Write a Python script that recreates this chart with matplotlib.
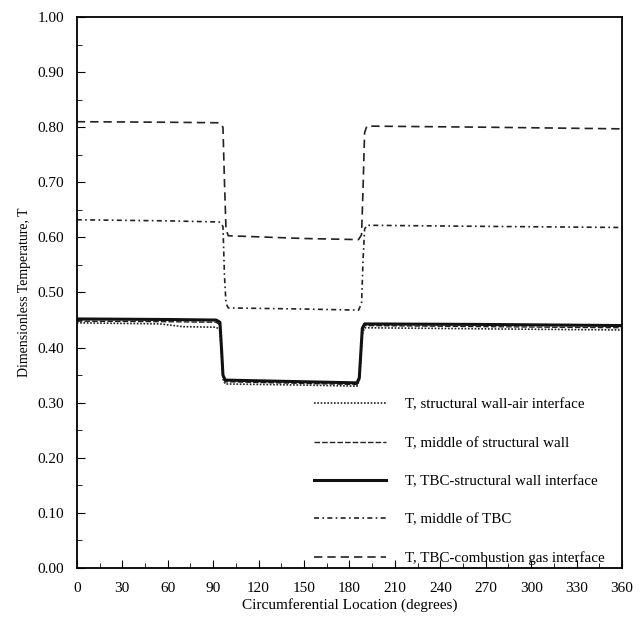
import matplotlib
matplotlib.use('Agg')
import matplotlib.pyplot as plt
from matplotlib.ticker import MultipleLocator, FormatStrFormatter

plt.rcParams['font.family'] = ['Liberation Serif', 'DejaVu Serif']

# ---- data ----
x_gas = [0, 60, 94, 96.5, 97.5, 98.5, 100, 150, 186, 188, 189, 190, 191.5, 270, 360]
t_gas = [0.810, 0.809, 0.808, 0.800, 0.700, 0.615, 0.603, 0.598, 0.596, 0.605, 0.690, 0.790, 0.802, 0.800, 0.797]

x_tbc = [0, 60, 94, 96.5, 97.5, 98.5, 100, 150, 186, 188, 189, 190, 191.5, 270, 360]
t_tbc = [0.632, 0.630, 0.628, 0.620, 0.530, 0.480, 0.472, 0.470, 0.468, 0.480, 0.560, 0.615, 0.622, 0.620, 0.618]

x_int = [0, 60, 92, 94.5, 95.5, 96.5, 98, 150, 185, 186.5, 187.5, 188.5, 190, 270, 360]
t_int = [0.452, 0.451, 0.450, 0.446, 0.400, 0.350, 0.341, 0.338, 0.336, 0.345, 0.390, 0.435, 0.443, 0.442, 0.440]

x_mid = [0, 60, 92, 94.5, 95.5, 96.5, 98, 150, 185, 186.5, 187.5, 188.5, 190, 270, 360]
t_mid = [0.448, 0.447, 0.446, 0.441, 0.395, 0.347, 0.338, 0.335, 0.333, 0.342, 0.385, 0.430, 0.440, 0.438, 0.436]

x_air = [0, 55, 70, 92, 94.5, 95.5, 96.5, 98, 150, 185, 186.5, 187.5, 188.5, 190, 270, 360]
t_air = [0.445, 0.443, 0.438, 0.437, 0.432, 0.390, 0.343, 0.334, 0.332, 0.330, 0.340, 0.380, 0.425, 0.436, 0.434, 0.432]

labels = ['T, structural wall-air interface',
          'T, middle of structural wall',
          'T, TBC-structural wall interface',
          'T, middle of TBC',
          'T, TBC-combustion gas interface']

fig = plt.figure(figsize=(6.4, 6.23), dpi=100)
ax = fig.add_axes([0.120, 0.0883, 0.852, 0.8844])

ax.plot(x_air, t_air, color='#222222', lw=1.2, ls=(0, (1, 1)), label=labels[0])
ax.plot(x_mid, t_mid, color='#222222', lw=1.0, ls=(0, (4, 1.5)), label=labels[1])
ax.plot(x_int, t_int, color='#111111', lw=2.2, ls='-', label=labels[2])
ax.plot(x_tbc, t_tbc, color='#222222', lw=1.2, ls=(0, (3, 2, 1, 2)), label=labels[3])
ax.plot(x_gas, t_gas, color='#222222', lw=1.2, ls=(0, (5, 3)), label=labels[4])

ax.set_xlim(0, 360)
ax.set_ylim(0, 1.0)
ax.xaxis.set_major_locator(MultipleLocator(30))
ax.xaxis.set_minor_locator(MultipleLocator(15))
ax.yaxis.set_major_locator(MultipleLocator(0.1))
ax.yaxis.set_minor_locator(MultipleLocator(0.05))
ax.yaxis.set_major_formatter(FormatStrFormatter('%.2f'))
ax.tick_params(which='both', direction='in', top=False, right=False, labelsize=11)
ax.tick_params(which='major', length=6)
ax.tick_params(which='minor', length=3.5)
ax.tick_params(axis='y', which='major', pad=9)
ax.tick_params(axis='x', which='major', pad=10)
for s in ax.spines.values():
    s.set_linewidth(1.3)

ax.set_xlabel('Circumferential Location (degrees)', fontsize=11, labelpad=2)
ax.set_ylabel('Dimensionless Temperature, T', fontsize=10, labelpad=5)

ax.legend(loc='lower left', bbox_to_anchor=(0.41, -0.019), frameon=False,
          fontsize=10.8, handlelength=4.8, handletextpad=1.3, labelspacing=1.65)

fig.savefig('out.png', dpi=100)
